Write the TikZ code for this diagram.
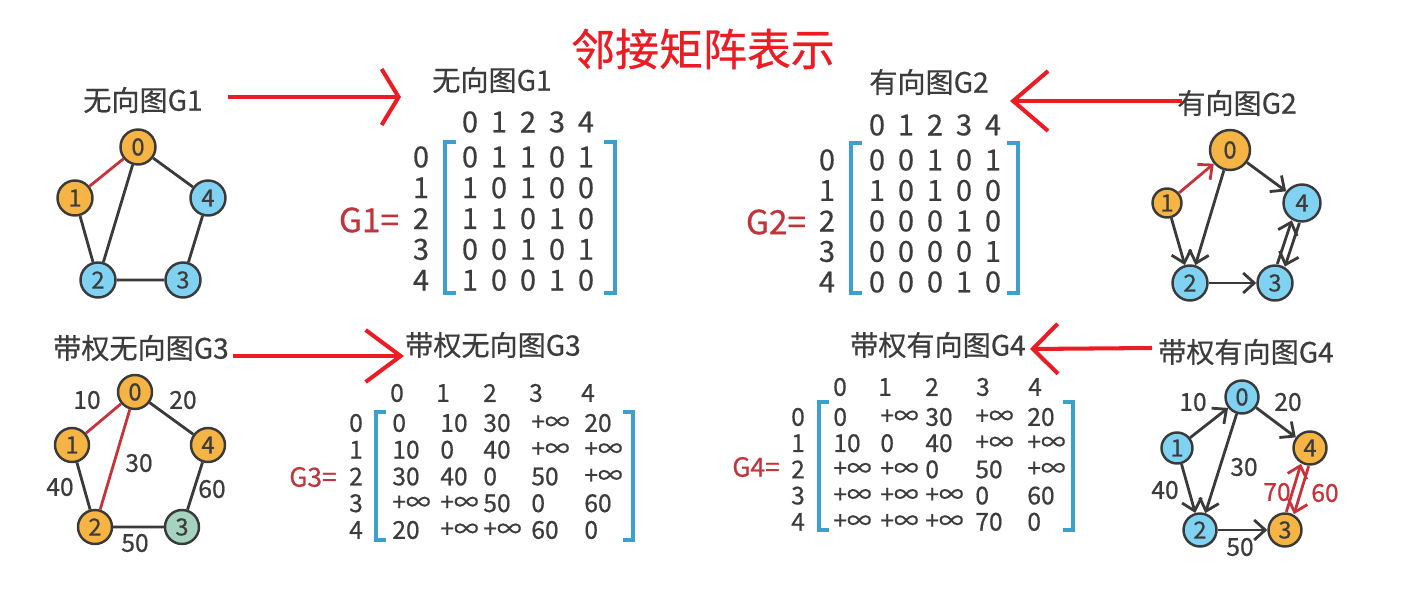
\documentclass[tikz,border=0pt]{standalone}
\usepackage{fontspec}
\setmainfont{Noto Sans CJK SC}[FakeBold=0.6,AutoFakeBold=0.6]
\usetikzlibrary{arrows.meta}

\definecolor{txtgray}{HTML}{3C3C3C}
\definecolor{linegray}{HTML}{3A3A3A}
\definecolor{vorange}{HTML}{F6B444}
\definecolor{vblue}{HTML}{80D2F2}
\definecolor{vgreen}{HTML}{A6D3BF}
\definecolor{edgered}{HTML}{C8323A}
\definecolor{eqred}{HTML}{C0343C}
\definecolor{notered}{HTML}{EC1C24}
\definecolor{brkblue}{HTML}{3BA0CC}

\begin{document}
\begin{tikzpicture}[
  x=0.02cm, y=-0.02cm,
  gtitle/.style={font=\fontsize{16pt}{19pt}\selectfont\bfseries, text=txtgray, inner sep=0pt},
  vtx/.style={circle, draw=linegray, line width=1.4pt, minimum size=0.7cm, inner sep=0pt,
    font=\fontsize{13.5pt}{15pt}\selectfont\bfseries, text=txtgray},
  org/.style={vtx, fill=vorange},
  blu/.style={vtx, fill=vblue},
  grn/.style={vtx, fill=vgreen},
  edge/.style={draw=linegray, line width=1.6pt},
  redge/.style={edge, draw=edgered},
  arc/.style={edge, -{Straight Barb[length=2.2mm,width=4mm]}},
  rarc/.style={arc, draw=edgered},
  wlbl/.style={font=\fontsize{14pt}{16pt}\selectfont\bfseries, text=txtgray, inner sep=0pt},
  mat/.style={font=\fontsize{16.5pt}{18pt}\selectfont\bfseries, text=txtgray, inner sep=0pt},
  wmat/.style={font=\fontsize{14pt}{16pt}\selectfont\bfseries, text=txtgray, inner sep=0pt},
  brk/.style={draw=brkblue, line width=2.8pt},
  eqlbl/.style={font=\fontsize{19pt}{22pt}\selectfont\bfseries, text=eqred, inner sep=0pt},
  note/.style={draw=notered, line width=2.3pt}
]
\useasboundingbox (0,0) rectangle (1401,595);

% ---------- Title ----------
\node[font=\fontsize{25pt}{29pt}\selectfont, text=notered] (title) at (703,49) {邻接矩阵表示};

% ---------- G1: undirected graph ----------
\node[gtitle] (g1lbl) at (143,100) {无向图G1};
\node[org] (a0) at (138,147) {0};
\node[org] (a1) at (75,198) {1};
\node[blu] (a4) at (208,198) {4};
\node[blu] (a2) at (98,280) {2};
\node[blu] (a3) at (183,280) {3};
\draw[redge] (a0) -- (a1);
\draw[edge] (a0) -- (a4) (a0) -- (a2) (a1) -- (a2) (a2) -- (a3) (a3) -- (a4);

% ---------- G2: directed graph ----------
\node[gtitle] (g2lbl) at (1237,103) {有向图G2};
\node[org, minimum size=0.8cm] (b0) at (1230,150) {0};
\node[org, minimum size=0.58cm] (b1) at (1167,203) {1};
\node[blu, minimum size=0.74cm] (b4) at (1302,203) {4};
\node[blu] (b2) at (1190,283) {2};
\node[blu] (b3) at (1275,283) {3};
\draw[rarc] (b1) -- (b0);
\draw[arc] (b0) -- (b4);
\draw[arc] (b0) -- (b2);
\draw[arc] (b1) -- (b2);
\draw[arc] (b2) -- (b3);
\draw[arc] ([xshift=-0.076cm,yshift=0.026cm]b3.71) -- ([xshift=-0.076cm,yshift=0.026cm]b4.251);
\draw[arc] ([xshift=0.076cm,yshift=-0.026cm]b4.251) -- ([xshift=0.076cm,yshift=-0.026cm]b3.71);

% ---------- G3: weighted undirected graph ----------
\node[gtitle] (g3lbl) at (141,348) {带权无向图G3};
\node[org, minimum size=0.68cm] (c0) at (135,392) {0};
\node[org, minimum size=0.68cm] (c1) at (72,445) {1};
\node[org, minimum size=0.68cm] (c4) at (208,445) {4};
\node[org, minimum size=0.68cm] (c2) at (95,527) {2};
\node[grn, minimum size=0.68cm] (c3) at (182,527) {3};
\draw[redge] (c0) -- (c1) (c0) -- (c2);
\draw[edge] (c0) -- (c4) (c1) -- (c2) (c2) -- (c3) (c3) -- (c4);
\node[wlbl] (w01) at (87,400) {10};
\node[wlbl] (w04) at (183,400) {20};
\node[wlbl] (w02) at (139,463) {30};
\node[wlbl] (w12) at (60,487) {40};
\node[wlbl] (w34) at (212,489) {60};
\node[wlbl] (w23) at (135,543) {50};

% ---------- G4: weighted directed graph ----------
\node[gtitle] (g4lbl) at (1246,352) {带权有向图G4};
\node[blu, minimum size=0.66cm] (d0) at (1242,397) {0};
\node[blu, minimum size=0.62cm] (d1) at (1177,448) {1};
\node[org, minimum size=0.66cm] (d4) at (1310,448) {4};
\node[blu, minimum size=0.66cm] (d2) at (1200,530) {2};
\node[org, minimum size=0.66cm] (d3) at (1285,530) {3};
\draw[arc] (d1) -- (d0);
\draw[arc] (d0) -- (d4);
\draw[arc] (d0) -- (d2);
\draw[arc] (d1) -- (d2);
\draw[arc] (d2) -- (d3);
\draw[rarc] ([xshift=-0.077cm,yshift=0.023cm]d3.73) -- ([xshift=-0.077cm,yshift=0.023cm]d4.253);
\draw[rarc] ([xshift=0.077cm,yshift=-0.023cm]d4.253) -- ([xshift=0.077cm,yshift=-0.023cm]d3.73);
\node[wlbl] (v10) at (1193,402) {10};
\node[wlbl] (v04) at (1288,402) {20};
\node[wlbl] (v02) at (1244,467) {30};
\node[wlbl] (v12) at (1165,490) {40};
\node[wlbl, text=edgered] (v34) at (1277,492) {70};
\node[wlbl, text=edgered] (v43) at (1325,493) {60};
\node[wlbl] (v23) at (1240,547) {50};

% ---------- Matrix of G1 ----------
\node[gtitle] (m1lbl) at (492,80) {无向图G1};
\foreach \j in {0,...,4}
  \node[mat] (m1h\j) at (470+29*\j,122) {\j};
\foreach \row [count=\i from 0] in {{0,1,1,0,1},{1,0,1,0,0},{1,1,0,1,0},{0,0,1,0,1},{1,0,0,1,0}}
{
  \node[mat] (m1r\i) at (421,157+30.8*\i) {\i};
  \foreach \v [count=\j from 0] in \row
    \node[mat] (m1-\i-\j) at (470+29*\j,157+30.8*\i) {\v};
}
\draw[brk] (456,142) -- (445,142) -- (445,293) -- (456,293);
\draw[brk] (604,142) -- (615,142) -- (615,293) -- (604,293);
\node[eqlbl] (m1eq) at (369,220) {G1=};

% ---------- Matrix of G2 ----------
\node[gtitle] (m2lbl) at (929,82) {有向图G2};
\foreach \j in {0,...,4}
  \node[mat] (m2h\j) at (877+29*\j,125) {\j};
\foreach \row [count=\i from 0] in {{0,0,1,0,1},{1,0,1,0,0},{0,0,0,1,0},{0,0,0,0,1},{0,0,0,1,0}}
{
  \node[mat] (m2r\i) at (827,160+30.5*\i) {\i};
  \foreach \v [count=\j from 0] in \row
    \node[mat] (m2-\i-\j) at (877+29*\j,160+30.5*\i) {\v};
}
\draw[brk] (862,143) -- (851,143) -- (851,293) -- (862,293);
\draw[brk] (1007,143) -- (1018,143) -- (1018,293) -- (1007,293);
\node[eqlbl] (m2eq) at (776,222) {G2=};

% ---------- Matrix of G3 ----------
\node[gtitle] (m3lbl) at (493,345) {带权无向图G3};
\foreach \j in {0,...,4}
{
  \pgfmathsetmacro\hx{{397,443,490,536,588}[\j]}
  \node[wmat] (m3h\j) at (\hx,393) {\j};
}
\foreach \row [count=\i from 0] in {{0,10,30,+∞,20},{10,0,40,+∞,+∞},{30,40,0,50,+∞},{+∞,+∞,50,0,60},{20,+∞,+∞,60,0}}
{
  \node[wmat] (m3r\i) at (356,423+26.75*\i) {\i};
  \foreach \v [count=\j from 0] in \row
  {
    \pgfmathsetmacro\cx{{392,440,483,531,584}[\j]}
    \node[wmat, anchor=west] (m3-\i-\j) at (\cx,423+26.75*\i) {\v};
  }
}
\draw[brk] (386,412) -- (376,412) -- (376,540) -- (386,540);
\draw[brk] (623,412) -- (633,412) -- (633,540) -- (623,540);
\node[eqlbl, font=\fontsize{15pt}{17pt}\selectfont\bfseries] (m3eq) at (313,477) {G3=};

% ---------- Matrix of G4 ----------
\node[gtitle] (m4lbl) at (938,345) {带权有向图G4};
\foreach \j in {0,...,4}
{
  \pgfmathsetmacro\hx{{840,885,932,983,1035}[\j]}
  \node[wmat] (m4h\j) at (\hx,387) {\j};
}
\foreach \row [count=\i from 0] in {{0,+∞,30,+∞,20},{10,0,40,+∞,+∞},{+∞,+∞,0,50,+∞},{+∞,+∞,+∞,0,60},{+∞,+∞,+∞,70,0}}
{
  \node[wmat] (m4r\i) at (798,417+26.2*\i) {\i};
  \foreach \v [count=\j from 0] in \row
  {
    \pgfmathsetmacro\cx{{833,880,925,975,1027}[\j]}
    \node[wmat, anchor=west] (m4-\i-\j) at (\cx,417+26.2*\i) {\v};
  }
}
\draw[brk] (829,402) -- (819,402) -- (819,530) -- (829,530);
\draw[brk] (1063,402) -- (1073,402) -- (1073,530) -- (1063,530);
\node[eqlbl, font=\fontsize{15pt}{17pt}\selectfont\bfseries] (m4eq) at (756,467) {G4=};

% ---------- Red pointer arrows ----------
\coordinate (p1s) at (228,97);
\coordinate (p1e) at (401,97);
\draw[note, -{Straight Barb[length=3.4mm,width=11.2mm]}] (p1s) -- (p1e);
\coordinate (p2s) at (1182,101);
\coordinate (p2e) at (1010,101);
\draw[note, -{Straight Barb[length=7mm,width=12mm]}] (p2s) -- (p2e);
\coordinate (p3s) at (233,356);
\coordinate (p3e) at (404,356);
\draw[note, -{Straight Barb[length=7mm,width=10.4mm]}] (p3s) -- (p3e);
\coordinate (p4s) at (1152,348);
\coordinate (p4e) at (1030,349);
\draw[note, -{Straight Barb[length=5mm,width=10mm]}] (p4s) -- (p4e);

\end{tikzpicture}
\end{document}
